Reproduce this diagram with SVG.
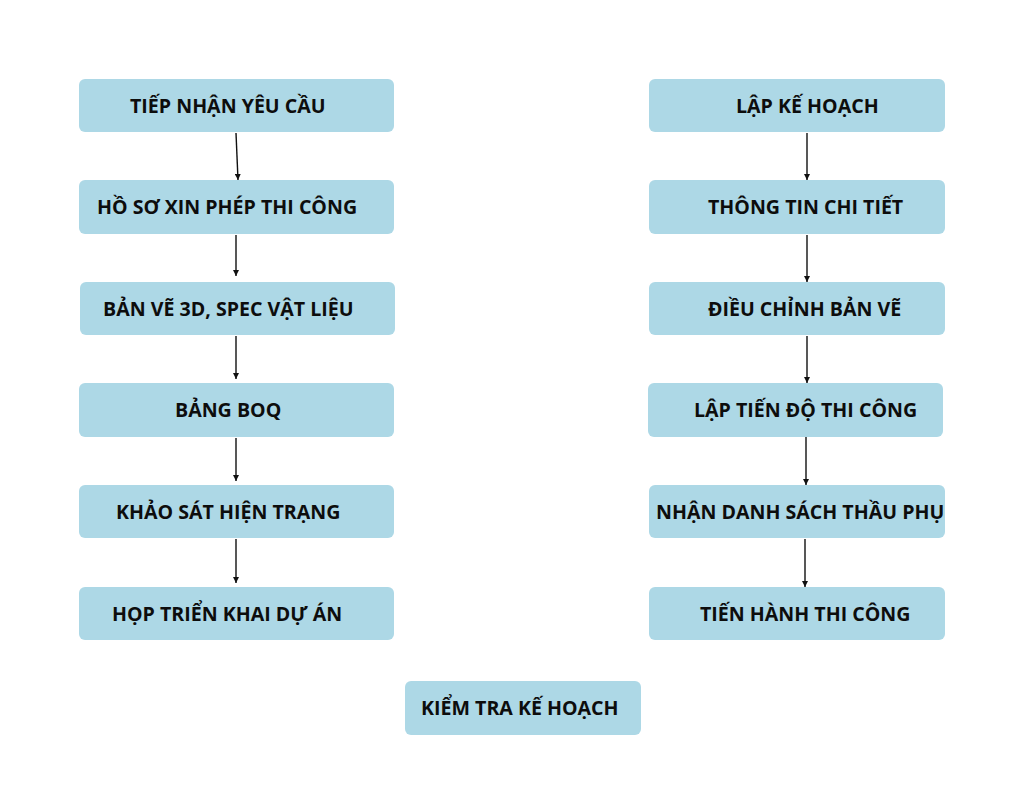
<svg xmlns="http://www.w3.org/2000/svg" width="1024" height="787" viewBox="0 0 1024 787">
<style>
.box{fill:#ADD8E6}
.lbl{font-family:"Open Sans","Noto Sans","DejaVu Sans",sans-serif;font-weight:700;font-size:19.6px;fill:#0d0d0d}
.edge{stroke:#111;stroke-width:1.4;fill:none;marker-end:url(#ah)}
</style>
<defs>
<marker id="ah" viewBox="0 0 10 10" refX="10" refY="5" markerWidth="6" markerHeight="6" markerUnits="userSpaceOnUse" orient="auto">
<path d="M0,0 L10,5 L0,10 Z" fill="#111"/>
</marker>
</defs>
<rect width="1024" height="787" fill="#fff"/>
<g id="connectors">
<path class="edge" d="M236,133 L238,180"/>
<path class="edge" d="M236,235 L236,276"/>
<path class="edge" d="M236,336 L236,379"/>
<path class="edge" d="M236,438 L236,481"/>
<path class="edge" d="M236,539 L236,583"/>
<path class="edge" d="M807,133 L807,180"/>
<path class="edge" d="M807,235 L807,282"/>
<path class="edge" d="M807,336 L807,383"/>
<path class="edge" d="M806,437 L806,485"/>
<path class="edge" d="M805,539 L805,587"/>
</g>
<g id="n1"><rect class="box" x="79" y="79" width="315" height="53" rx="6"/><text class="lbl" x="130" y="113">TIẾP NHẬN YÊU CẦU</text></g>
<g id="n2"><rect class="box" x="79" y="180" width="315" height="54" rx="6"/><text class="lbl" x="97" y="214">HỒ SƠ XIN PHÉP THI CÔNG</text></g>
<g id="n3"><rect class="box" x="80" y="282" width="315" height="53" rx="6"/><text class="lbl" x="103" y="316">BẢN VẼ 3D, SPEC VẬT LIỆU</text></g>
<g id="n4"><rect class="box" x="79" y="383" width="315" height="54" rx="6"/><text class="lbl" x="175" y="417">BẢNG BOQ</text></g>
<g id="n5"><rect class="box" x="79" y="485" width="315" height="53" rx="6"/><text class="lbl" x="116" y="519">KHẢO SÁT HIỆN TRẠNG</text></g>
<g id="n6"><rect class="box" x="79" y="587" width="315" height="53" rx="6"/><text class="lbl" x="112" y="621">HỌP TRIỂN KHAI DỰ ÁN</text></g>
<g id="n7"><rect class="box" x="649" y="79" width="296" height="53" rx="6"/><text class="lbl" x="736" y="113">LẬP KẾ HOẠCH</text></g>
<g id="n8"><rect class="box" x="649" y="180" width="296" height="54" rx="6"/><text class="lbl" x="708" y="214">THÔNG TIN CHI TIẾT</text></g>
<g id="n9"><rect class="box" x="649" y="282" width="296" height="53" rx="6"/><text class="lbl" x="708" y="316">ĐIỀU CHỈNH BẢN VẼ</text></g>
<g id="n10"><rect class="box" x="648" y="383" width="295" height="54" rx="6"/><text class="lbl" x="694" y="417">LẬP TIẾN ĐỘ THI CÔNG</text></g>
<g id="n11"><rect class="box" x="649" y="485" width="296" height="53" rx="6"/><text class="lbl" x="656" y="519">NHẬN DANH SÁCH THẦU PHỤ</text></g>
<g id="n12"><rect class="box" x="649" y="587" width="296" height="53" rx="6"/><text class="lbl" x="700" y="621">TIẾN HÀNH THI CÔNG</text></g>
<g id="n13"><rect class="box" x="405" y="681" width="236" height="54" rx="6"/><text class="lbl" x="421" y="715">KIỂM TRA KẾ HOẠCH</text></g>
</svg>
